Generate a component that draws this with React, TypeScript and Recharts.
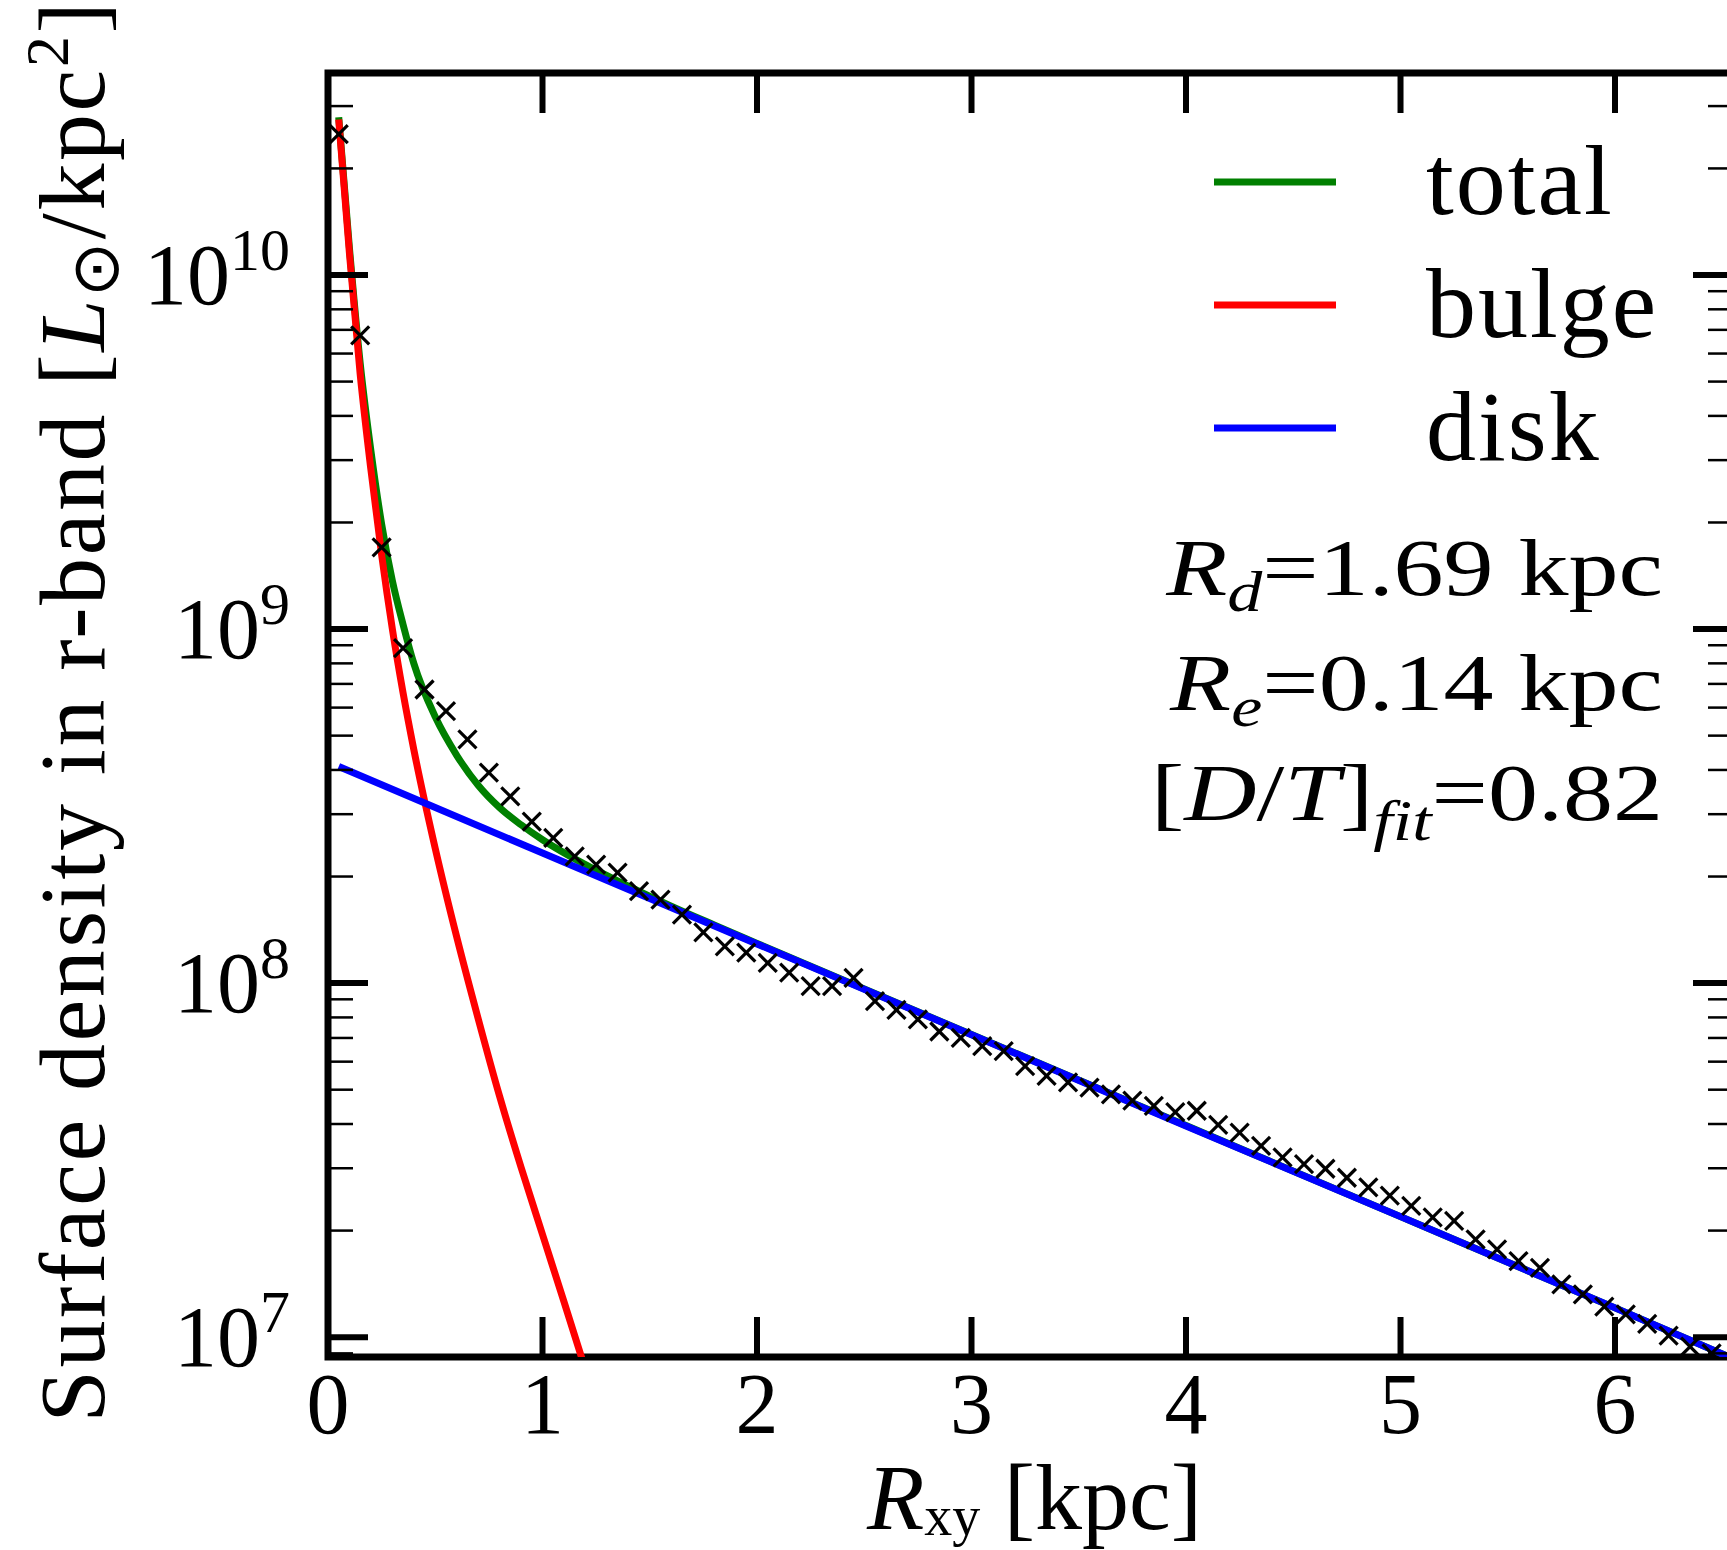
import React from 'react';
import { ComposedChart, Line, Scatter, XAxis, YAxis, Legend, ReferenceArea } from 'recharts';

// measured profile (crosses), R in kpc, surface density in L_sun/kpc^2
const R_DATA = [
  0.05, 0.15, 0.25, 0.35, 0.45, 0.55, 0.65, 0.75, 0.85, 0.95,
  1.05, 1.15, 1.25, 1.35, 1.45, 1.55, 1.65, 1.75, 1.85, 1.95,
  2.05, 2.15, 2.25, 2.35, 2.45, 2.55, 2.65, 2.75, 2.85, 2.95,
  3.05, 3.15, 3.25, 3.35, 3.45, 3.55, 3.65, 3.75, 3.85, 3.95,
  4.05, 4.15, 4.25, 4.35, 4.45, 4.55, 4.65, 4.75, 4.85, 4.95,
  5.05, 5.15, 5.25, 5.35, 5.45, 5.55, 5.65, 5.75, 5.85, 5.95,
  6.05, 6.15, 6.25, 6.35, 6.45,
];
const SIGMA_DATA = [
  2.5e10, 6.75e9, 1.7e9, 8.83e8, 6.75e8, 5.86e8, 4.88e8, 3.93e8, 3.37e8, 2.86e8,
  2.57e8, 2.28e8, 2.16e8, 2.05e8, 1.82e8, 1.72e8, 1.56e8, 1.39e8, 1.27e8, 1.22e8,
  1.14e8, 1.07e8, 9.8e7, 9.8e7, 1.035e8, 8.9e7, 8.4e7, 7.9e7, 7.3e7, 7.0e7,
  6.64e7, 6.43e7, 5.83e7, 5.47e7, 5.24e7, 5.07e7, 4.85e7, 4.66e7, 4.5e7, 4.32e7,
  4.36e7, 3.98e7, 3.78e7, 3.47e7, 3.22e7, 3.08e7, 2.99e7, 2.82e7, 2.65e7, 2.51e7,
  2.35e7, 2.18e7, 2.13e7, 1.89e7, 1.77e7, 1.64e7, 1.57e7, 1.41e7, 1.32e7, 1.22e7,
  1.16e7, 1.09e7, 1.01e7, 9.4e6, 9.0e6,
];

// fitted components
const R_TOTAL = [0.05, 0.1, 0.15, 0.2, 0.25, 0.3, 0.35, 0.4, 0.5, 0.6, 0.7, 0.8, 0.9, 1.0, 1.2, 1.4, 1.6, 1.8, 2, 3, 4, 5, 6, 6.55];
const SIGMA_TOTAL = [
  2.79e10, 1.19e10, 5.64e9, 3.19e9, 1.98e9, 1.37e9, 1.03e9, 8.0e8, 5.65e8, 4.4e8,
  3.62e8, 3.13e8, 2.8e8, 2.54e8, 2.16e8, 1.88e8, 1.65e8, 1.46e8, 1.295e8, 7.16e7,
  3.96e7, 2.19e7, 1.21e7, 8.7e6,
];

const R_BULGE = [0.05, 0.1, 0.15, 0.2, 0.25, 0.3, 0.35, 0.4, 0.5, 0.6, 0.7, 0.8, 0.9, 1.0, 1.1, 1.2];
const SIGMA_BULGE = [
  2.75e10, 1.15e10, 5.25e9, 2.82e9, 1.62e9, 1.0e9, 6.6e8, 4.57e8, 2.4e8, 1.35e8,
  7.94e7, 4.79e7, 3.02e7, 1.95e7, 1.26e7, 8.1e6,
];

const R_DISK = [0.05, 1, 2, 3, 4, 5, 6, 6.55];
const SIGMA_DISK = [4.09e8, 2.33e8, 1.29e8, 7.15e7, 3.95e7, 2.19e7, 1.21e7, 8.7e6];

const X_TICKS = [0, 1, 2, 3, 4, 5, 6];
const Y_MAJOR = [1e7, 1e8, 1e9, 1e10];
const Y_MINOR = [
  9e6,
  2e7, 3e7, 4e7, 5e7, 6e7, 7e7, 8e7, 9e7,
  2e8, 3e8, 4e8, 5e8, 6e8, 7e8, 8e8, 9e8,
  2e9, 3e9, 4e9, 5e9, 6e9, 7e9, 8e9, 9e9,
  2e10, 3e10,
];

const SERIES_NAMES = ['total', 'bulge', 'disk'];
const SERIES_COLORS = ['#008000', '#ff0000', '#0000ff'];

const X_DOMAIN = [0, 6.55];
const Y_DOMAIN = [8.79e6, 3.72e10];

const CHART_W = 1745;
const CHART_H = 1550;
// the axes take 1px each (a zero-size axis is not drawn)
const MARGIN = { top: 73, right: 12, bottom: 192, left: 327 };
const PLOT_W = CHART_W - MARGIN.left - MARGIN.right - 1;
const PLOT_H = CHART_H - MARGIN.top - MARGIN.bottom - 1;

const SERIF = '"Liberation Serif", "Times New Roman", serif';

const toPoints = (xs: number[], ys: number[]) => xs.map((x, i) => ({ x, y: ys[i] }));

const XTick = (props: any) => {
  const { x, y, payload } = props;
  return (
    <g>
      <line x1={x} x2={x} y1={y} y2={y - 40} stroke="#000" strokeWidth={6} />
      <line x1={x} x2={x} y1={y - PLOT_H} y2={y - PLOT_H + 40} stroke="#000" strokeWidth={6} />
      <text x={x} y={y + 76} textAnchor="middle" fontFamily={SERIF} fontSize={86} fill="#000">
        {payload.value}
      </text>
    </g>
  );
};

const YTick = (props: any) => {
  const { x, y, payload } = props;
  const v = payload.value;
  const major = Y_MAJOR.indexOf(v) >= 0;
  const len = major ? 40 : 25;
  const w = major ? 6 : 2.5;
  const xr = x + PLOT_W;
  return (
    <g>
      <line x1={x} x2={x + len} y1={y} y2={y} stroke="#000" strokeWidth={w} />
      <line x1={xr} x2={xr - len} y1={y} y2={y} stroke="#000" strokeWidth={w} />
      {major && (
        <text x={x - 38} y={y + 29} textAnchor="end" fontFamily={SERIF} fontSize={86} fill="#000">
          10
          <tspan dy={-34} fontSize={60}>{Math.round(Math.log10(v))}</tspan>
        </text>
      )}
    </g>
  );
};

const XMarker = (props: any) => {
  const { cx, cy } = props;
  if (cx == null || cy == null) return null;
  const s = 9;
  return (
    <g stroke="#000" strokeWidth={3.2}>
      <line x1={cx - s} y1={cy - s} x2={cx + s} y2={cy + s} />
      <line x1={cx - s} y1={cy + s} x2={cx + s} y2={cy - s} />
    </g>
  );
};

const XTitle = (props: any) => {
  const vb = props.viewBox || {};
  const cx = vb.width ? vb.x + vb.width / 2 : MARGIN.left + PLOT_W / 2;
  return (
    <text x={cx + 4} y={MARGIN.top + PLOT_H + 172} textAnchor="middle" fontFamily={SERIF} fontSize={94} fill="#000">
      <tspan fontStyle="italic">R</tspan>
      <tspan dy={6} fontSize={56}>xy</tspan>
      <tspan dy={-6}> [kpc]</tspan>
    </text>
  );
};

const YTitle = (props: any) => {
  const vb = props.viewBox || {};
  const cy = vb.height ? vb.y + vb.height / 2 : MARGIN.top + PLOT_H / 2;
  return (
    <text
      transform={`translate(104, ${cy - 4}) rotate(-90)`}
      textAnchor="middle"
      fontFamily={SERIF}
      fontSize={94}
      letterSpacing={2.6}
      fill="#000"
    >
      Surface density in r-band [
      <tspan fontStyle="italic">L</tspan>
      <tspan dy={14} fontSize={66}>⊙</tspan>
      <tspan dy={-14}>/kpc</tspan>
      <tspan dy={-36} fontSize={62}>2</tspan>
      <tspan dy={36}>]</tspan>
    </text>
  );
};

// legend and fit summary, drawn in a box in the upper right of the axes
const LEGEND_LEFT = 1200;
const LEGEND_TOP = 100;
const FIT_SCALE_X = 1.25;

const FitLine = ({ y, children }: { y: number; children: React.ReactNode }) => (
  <text
    transform={`translate(463, ${y}) scale(${FIT_SCALE_X}, 1)`}
    textAnchor="end"
    fontFamily={SERIF}
    fontSize={80}
    fill="#000"
  >
    {children}
  </text>
);

const LegendBox = (props: any) => {
  const payload = (props.payload || []).filter((p: any) => SERIES_NAMES.indexOf(p.value) >= 0);
  payload.sort((a: any, b: any) => SERIES_NAMES.indexOf(a.value) - SERIES_NAMES.indexOf(b.value));
  return (
    <svg width={560} height={800} style={{ overflow: 'visible', display: 'block' }}>
      {payload.map((p: any, i: number) => {
        const ly = 82 + i * 123;
        return (
          <g key={p.value}>
            <line x1={14} x2={136} y1={ly} y2={ly} stroke={p.color} strokeWidth={7} />
            <text x={226} y={ly + 32} fontFamily={SERIF} fontSize={100} letterSpacing={2} fill="#000">
              {p.value}
            </text>
          </g>
        );
      })}
      <FitLine y={495}>
        <tspan fontStyle="italic">R</tspan>
        <tspan dy={16} fontSize={56} fontStyle="italic">d</tspan>
        <tspan dy={-16}>=1.69 kpc</tspan>
      </FitLine>
      <FitLine y={610}>
        <tspan fontStyle="italic">R</tspan>
        <tspan dy={16} fontSize={56} fontStyle="italic">e</tspan>
        <tspan dy={-16}>=0.14 kpc</tspan>
      </FitLine>
      <FitLine y={720}>
        [<tspan fontStyle="italic">D</tspan>/<tspan fontStyle="italic">T</tspan>]
        <tspan dy={20} fontSize={56} fontStyle="italic">fit</tspan>
        <tspan dy={-20}>=0.82</tspan>
      </FitLine>
    </svg>
  );
};

const App: React.FC = () => {
  const dataPoints = toPoints(R_DATA, SIGMA_DATA);
  const totalPoints = toPoints(R_TOTAL, SIGMA_TOTAL);
  const bulgePoints = toPoints(R_BULGE, SIGMA_BULGE);
  const diskPoints = toPoints(R_DISK, SIGMA_DISK);

  return (
    <div style={{ position: 'absolute', left: 0, top: 0, width: 1727, height: 1550, overflow: 'hidden', background: '#fff' }}>
      <ComposedChart width={CHART_W} height={CHART_H} margin={MARGIN}>
        <XAxis
          type="number"
          dataKey="x"
          domain={X_DOMAIN}
          allowDataOverflow
          ticks={X_TICKS}
          interval={0}
          height={1}
          axisLine={false}
          tickLine={false}
          tickSize={0}
          tickMargin={0}
          tick={<XTick />}
          label={<XTitle />}
        />
        <YAxis
          type="number"
          scale="log"
          domain={Y_DOMAIN}
          allowDataOverflow
          ticks={[...Y_MINOR, ...Y_MAJOR]}
          interval={0}
          width={1}
          axisLine={false}
          tickLine={false}
          tickSize={0}
          tickMargin={0}
          tick={<YTick />}
          label={<YTitle />}
        />
        <Scatter
          name="data"
          data={dataPoints}
          dataKey="y"
          shape={<XMarker />}
          legendType="none"
          isAnimationActive={false}
        />
        <Line
          name={SERIES_NAMES[0]}
          data={totalPoints}
          dataKey="y"
          type="monotone"
          stroke={SERIES_COLORS[0]}
          strokeWidth={7}
          dot={false}
          activeDot={false}
          isAnimationActive={false}
        />
        <Line
          name={SERIES_NAMES[1]}
          data={bulgePoints}
          dataKey="y"
          type="monotone"
          stroke={SERIES_COLORS[1]}
          strokeWidth={7}
          dot={false}
          activeDot={false}
          isAnimationActive={false}
        />
        <Line
          name={SERIES_NAMES[2]}
          data={diskPoints}
          dataKey="y"
          type="linear"
          stroke={SERIES_COLORS[2]}
          strokeWidth={7}
          dot={false}
          activeDot={false}
          isAnimationActive={false}
        />
        <ReferenceArea
          x1={X_DOMAIN[0]}
          x2={X_DOMAIN[1]}
          y1={Y_DOMAIN[0]}
          y2={Y_DOMAIN[1]}
          fill="none"
          fillOpacity={0}
          stroke="#000"
          strokeWidth={7}
          ifOverflow="visible"
        />
        <Legend
          content={(p: any) => <LegendBox {...p} />}
          layout="vertical"
          align="center"
          verticalAlign="middle"
          wrapperStyle={{ left: LEGEND_LEFT, top: LEGEND_TOP, width: 560, height: 800 }}
        />
      </ComposedChart>
    </div>
  );
};

export default App;
